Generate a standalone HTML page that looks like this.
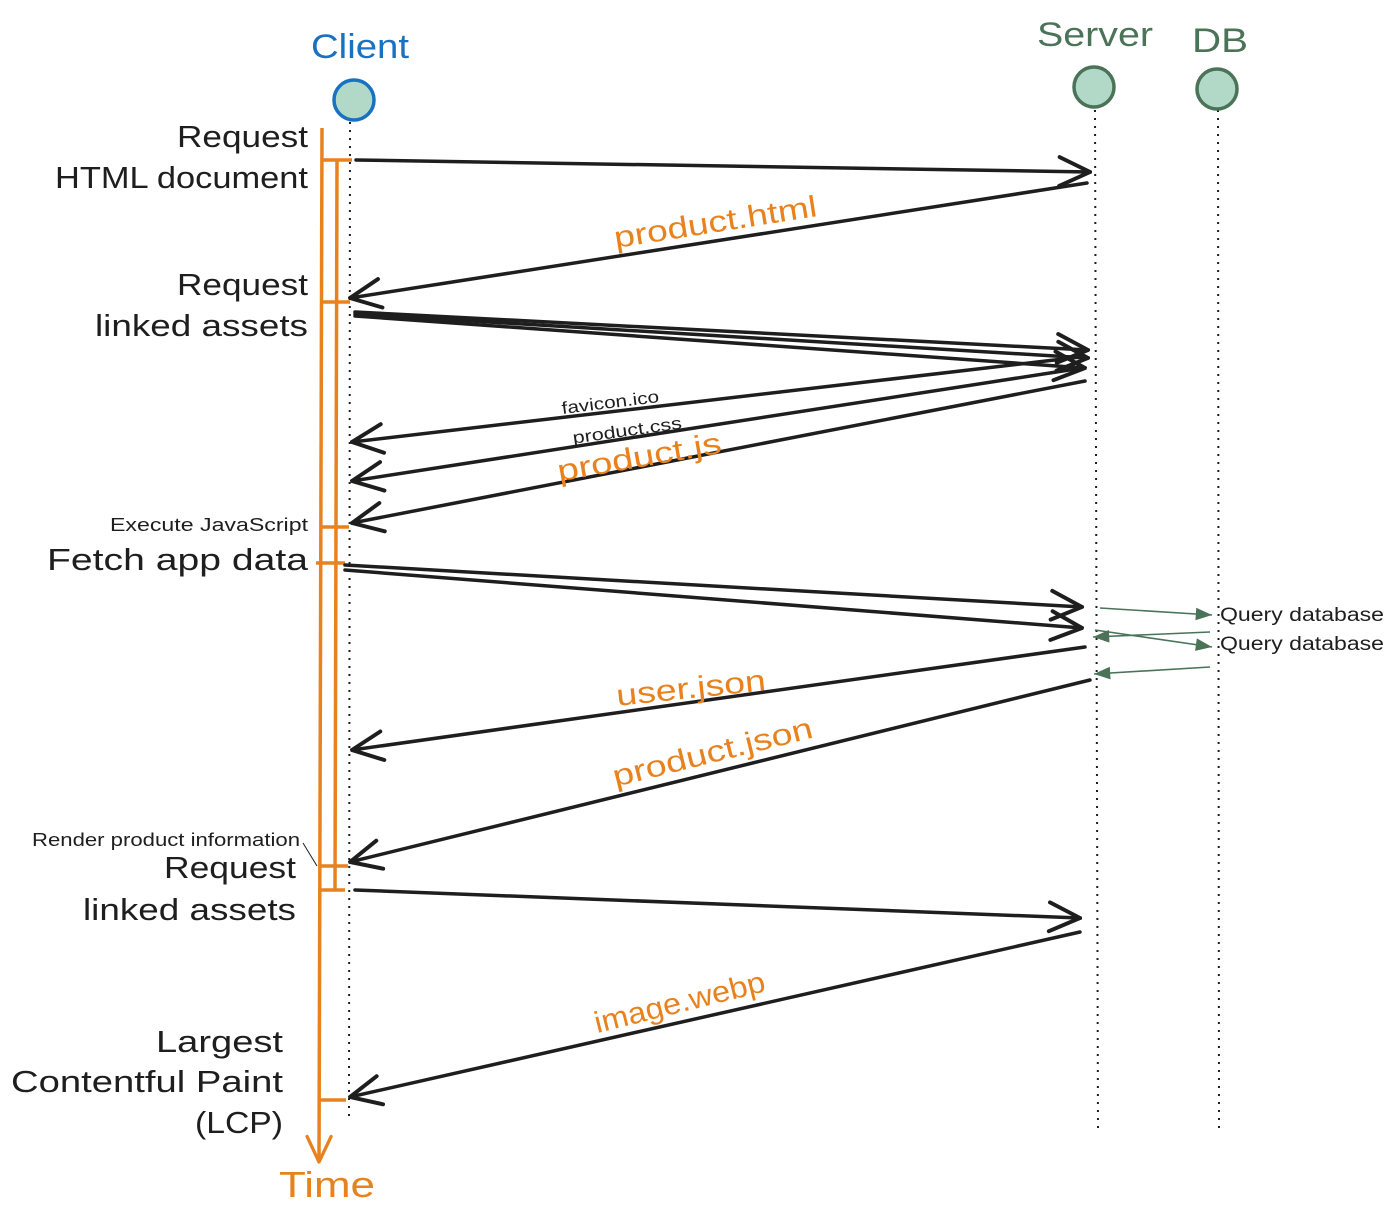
<!DOCTYPE html>
<html><head><meta charset="utf-8"><style>
html,body{margin:0;padding:0;background:#fff;}
svg{display:block}
text{font-family:"Liberation Sans",sans-serif;}
</style></head><body>
<svg width="1393" height="1220" viewBox="0 0 1393 1220" xmlns="http://www.w3.org/2000/svg">
<defs>
<marker id="ah" viewBox="0 0 20 20" refX="19" refY="10" markerWidth="36" markerHeight="36" markerUnits="userSpaceOnUse" orient="auto">
<path d="M2 2 L19 10 L2 18" fill="none" stroke="#1e1e1e" stroke-width="2.2" stroke-linecap="round"/>
</marker>
<marker id="gh" viewBox="0 0 20 20" refX="19" refY="10" markerWidth="18" markerHeight="18" markerUnits="userSpaceOnUse" orient="auto">
<path d="M1 3 L19 10 L1 17 Z" fill="#4a7358"/>
</marker>
<marker id="oh" viewBox="0 0 20 20" refX="19" refY="10" markerWidth="30" markerHeight="30" markerUnits="userSpaceOnUse" orient="auto">
<path d="M2 2 L19 10 L2 18" fill="none" stroke="#e8821e" stroke-width="2.2" stroke-linecap="round"/>
</marker>
</defs>

<!-- lifelines -->
<g stroke="#1e1e1e" stroke-width="2" stroke-dasharray="2 6" fill="none">
<line x1="350" y1="122" x2="349" y2="1120"/>
<line x1="1095" y1="110" x2="1098" y2="1130"/>
<line x1="1218" y1="110" x2="1219" y2="1130"/>
</g>
<circle cx="354" cy="100" r="20" fill="#b2d8c8" stroke="#1971c2" stroke-width="3.5"/>
<circle cx="1094" cy="87" r="20" fill="#b2d8c8" stroke="#4a7358" stroke-width="3.5"/>
<circle cx="1217" cy="89" r="20" fill="#b2d8c8" stroke="#4a7358" stroke-width="3.5"/>
<text x="360" y="58" font-size="34" fill="#1971c2" text-anchor="middle" textLength="98" lengthAdjust="spacingAndGlyphs">Client</text>
<text x="1095" y="46" font-size="34" fill="#4a7358" text-anchor="middle" textLength="116" lengthAdjust="spacingAndGlyphs">Server</text>
<text x="1220" y="52" font-size="34" fill="#4a7358" text-anchor="middle" textLength="56" lengthAdjust="spacingAndGlyphs">DB</text>

<!-- orange timeline -->
<g stroke="#e8821e" stroke-width="3.5" fill="none">
<line x1="322" y1="128" x2="319" y2="1162" marker-end="url(#oh)"/>
<line x1="337" y1="160" x2="335" y2="890"/>
<line x1="322" y1="160" x2="352" y2="160"/>
<line x1="322" y1="302" x2="350" y2="302"/>
<line x1="322" y1="527" x2="349" y2="527"/>
<line x1="316" y1="563" x2="345" y2="563"/>
<line x1="320" y1="866" x2="348" y2="866"/>
<line x1="320" y1="890" x2="345" y2="890"/>
<line x1="320" y1="1100" x2="346" y2="1100"/>
</g>
<text x="327" y="1197" font-size="36" fill="#e8821e" text-anchor="middle" textLength="96" lengthAdjust="spacingAndGlyphs">Time</text>

<!-- black arrows -->
<g stroke="#1e1e1e" stroke-width="3.5" fill="none" stroke-linecap="round">
<line x1="356" y1="160" x2="1090" y2="172" marker-end="url(#ah)"/>
<line x1="1087" y1="183" x2="350" y2="298" marker-end="url(#ah)"/>
<line x1="355" y1="312" x2="1088" y2="350" marker-end="url(#ah)"/>
<line x1="355" y1="314" x2="1088" y2="358" marker-end="url(#ah)"/>
<line x1="355" y1="316" x2="1085" y2="368" marker-end="url(#ah)"/>
<line x1="1080" y1="357" x2="352" y2="442" marker-end="url(#ah)"/>
<line x1="1082" y1="368" x2="352" y2="481" marker-end="url(#ah)"/>
<line x1="1085" y1="381" x2="352" y2="523" marker-end="url(#ah)"/>
<line x1="345" y1="565" x2="1082" y2="607" marker-end="url(#ah)"/>
<line x1="345" y1="570" x2="1082" y2="628" marker-end="url(#ah)"/>
<line x1="1085" y1="647" x2="352" y2="750" marker-end="url(#ah)"/>
<line x1="1090" y1="680" x2="350" y2="862" marker-end="url(#ah)"/>
<line x1="355" y1="890" x2="1080" y2="918" marker-end="url(#ah)"/>
<line x1="1080" y1="932" x2="350" y2="1097" marker-end="url(#ah)"/>
</g>
<!-- green arrows -->
<g stroke="#4a7358" stroke-width="1.6" fill="none">
<line x1="1100" y1="608" x2="1212" y2="615" marker-end="url(#gh)"/>
<line x1="1095" y1="630" x2="1212" y2="647" marker-end="url(#gh)"/>
<line x1="1210" y1="632" x2="1093" y2="637" marker-end="url(#gh)"/>
<line x1="1210" y1="667" x2="1094" y2="674" marker-end="url(#gh)"/>
</g>
<text x="1220" y="621" font-size="19" fill="#1e1e1e" textLength="164" lengthAdjust="spacingAndGlyphs">Query database</text>
<text x="1220" y="650" font-size="19" fill="#1e1e1e" textLength="164" lengthAdjust="spacingAndGlyphs">Query database</text>

<!-- arrow labels -->
<g fill="#e8821e" font-size="30">
<text transform="translate(717,232) rotate(-9)" text-anchor="middle" textLength="205" lengthAdjust="spacingAndGlyphs">product.html</text>
<text transform="translate(641,467) rotate(-10)" text-anchor="middle" textLength="166" lengthAdjust="spacingAndGlyphs">product.js</text>
<text transform="translate(692,698) rotate(-6)" text-anchor="middle" textLength="150" lengthAdjust="spacingAndGlyphs">user.json</text>
<text transform="translate(715,762) rotate(-14)" text-anchor="middle" textLength="205" lengthAdjust="spacingAndGlyphs">product.json</text>
<text transform="translate(682,1012) rotate(-14)" text-anchor="middle" textLength="175" lengthAdjust="spacingAndGlyphs">image.webp</text>
</g>
<g fill="#1e1e1e" font-size="17">
<text transform="translate(611,408) rotate(-7)" text-anchor="middle" textLength="98" lengthAdjust="spacingAndGlyphs">favicon.ico</text>
<text transform="translate(628,436) rotate(-8)" text-anchor="middle" textLength="110" lengthAdjust="spacingAndGlyphs">product.css</text>
</g>

<!-- left labels -->
<g fill="#1e1e1e" text-anchor="end">
<text x="308" y="147" font-size="31" textLength="131" lengthAdjust="spacingAndGlyphs">Request</text>
<text x="308" y="188" font-size="31" textLength="253" lengthAdjust="spacingAndGlyphs">HTML document</text>
<text x="308" y="295" font-size="31" textLength="131" lengthAdjust="spacingAndGlyphs">Request</text>
<text x="308" y="336" font-size="31" textLength="213" lengthAdjust="spacingAndGlyphs">linked assets</text>
<text x="308" y="531" font-size="18" textLength="198" lengthAdjust="spacingAndGlyphs">Execute JavaScript</text>
<text x="308" y="570" font-size="31" textLength="261" lengthAdjust="spacingAndGlyphs">Fetch app data</text>
<text x="300" y="846" font-size="18" textLength="268" lengthAdjust="spacingAndGlyphs">Render product information</text>
<text x="296" y="878" font-size="31" textLength="132" lengthAdjust="spacingAndGlyphs">Request</text>
<text x="296" y="920" font-size="31" textLength="213" lengthAdjust="spacingAndGlyphs">linked assets</text>
<text x="283" y="1052" font-size="31" textLength="127" lengthAdjust="spacingAndGlyphs">Largest</text>
<text x="283" y="1092" font-size="31" textLength="272" lengthAdjust="spacingAndGlyphs">Contentful Paint</text>
<text x="283" y="1133" font-size="31" textLength="88" lengthAdjust="spacingAndGlyphs">(LCP)</text>
</g>
<line x1="303" y1="843" x2="317" y2="866" stroke="#1e1e1e" stroke-width="1"/>
</svg>
</body></html>
